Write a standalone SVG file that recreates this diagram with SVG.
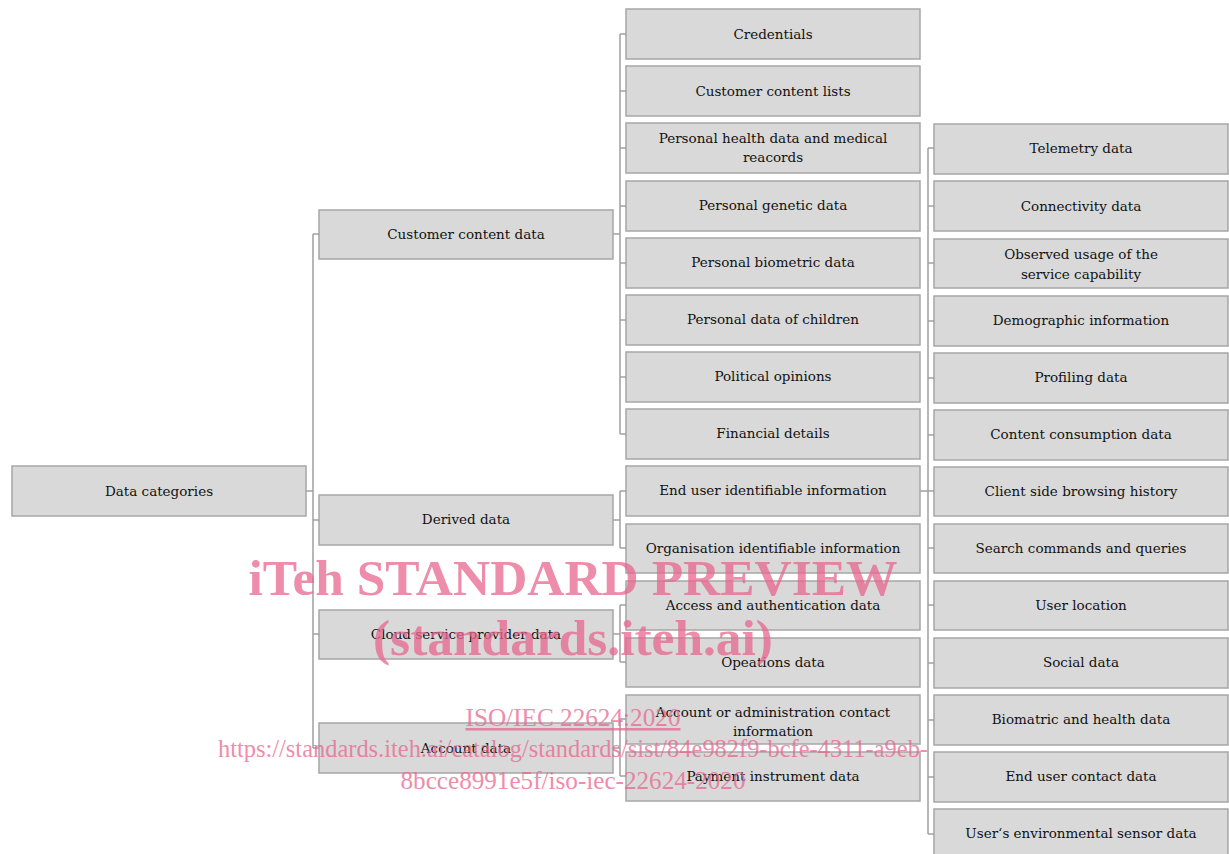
<svg xmlns="http://www.w3.org/2000/svg" width="1229" height="854" viewBox="0 0 1229 854">
<style>
.box{fill:#d9d9d9;stroke:#a6a6a6;stroke-width:1.5}
.t{font-family:"DejaVu Serif","Liberation Serif",serif;font-size:13.5px;fill:#111;text-anchor:middle}
.c{fill:none;stroke:#a0a0a0;stroke-width:1.5}
.wm{font-family:"Liberation Serif","Times New Roman",serif;fill:#e8678f;opacity:0.75;text-anchor:middle}
</style>
<defs>
<marker id="sq" viewBox="0 0 4 4" refX="2" refY="2" markerWidth="3" markerHeight="3" markerUnits="userSpaceOnUse"><rect width="4" height="4" fill="#a0a0a0"/></marker>
</defs>
<rect width="1229" height="854" fill="#fff"/>
<g id="connectors">
<path class="c" d="M306 491H313M313 234V748"/>
<path class="c" d="M313 234H319" marker-end="url(#sq)"/>
<path class="c" d="M313 520H319" marker-end="url(#sq)"/>
<path class="c" d="M313 634H319" marker-end="url(#sq)"/>
<path class="c" d="M313 748H319" marker-end="url(#sq)"/>
<path class="c" d="M613 234H620M620 34V434"/>
<path class="c" d="M620 34H626" marker-end="url(#sq)"/>
<path class="c" d="M620 91H626" marker-end="url(#sq)"/>
<path class="c" d="M620 148H626" marker-end="url(#sq)"/>
<path class="c" d="M620 206H626" marker-end="url(#sq)"/>
<path class="c" d="M620 263H626" marker-end="url(#sq)"/>
<path class="c" d="M620 320H626" marker-end="url(#sq)"/>
<path class="c" d="M620 377H626" marker-end="url(#sq)"/>
<path class="c" d="M620 434H626" marker-end="url(#sq)"/>
<path class="c" d="M613 520H620M620 491V548"/>
<path class="c" d="M620 491H626" marker-end="url(#sq)"/>
<path class="c" d="M620 548H626" marker-end="url(#sq)"/>
<path class="c" d="M613 634H620M620 605V662"/>
<path class="c" d="M620 605H626" marker-end="url(#sq)"/>
<path class="c" d="M620 662H626" marker-end="url(#sq)"/>
<path class="c" d="M613 748H620M620 719V776"/>
<path class="c" d="M620 719H626" marker-end="url(#sq)"/>
<path class="c" d="M620 776H626" marker-end="url(#sq)"/>
<path class="c" d="M920 491H928M928 148V834"/>
<path class="c" d="M928 148H934" marker-end="url(#sq)"/>
<path class="c" d="M928 206H934" marker-end="url(#sq)"/>
<path class="c" d="M928 263H934" marker-end="url(#sq)"/>
<path class="c" d="M928 321H934" marker-end="url(#sq)"/>
<path class="c" d="M928 378H934" marker-end="url(#sq)"/>
<path class="c" d="M928 435H934" marker-end="url(#sq)"/>
<path class="c" d="M928 491H934" marker-end="url(#sq)"/>
<path class="c" d="M928 548H934" marker-end="url(#sq)"/>
<path class="c" d="M928 605H934" marker-end="url(#sq)"/>
<path class="c" d="M928 663H934" marker-end="url(#sq)"/>
<path class="c" d="M928 720H934" marker-end="url(#sq)"/>
<path class="c" d="M928 777H934" marker-end="url(#sq)"/>
<path class="c" d="M928 834H934" marker-end="url(#sq)"/>
</g>
<g id="n-root"><rect class="box" x="12" y="466" width="294" height="50"/><text class="t" x="159" y="496">Data categories</text></g>
<g id="n-ccd"><rect class="box" x="319" y="210" width="294" height="49"/><text class="t" x="466" y="239">Customer content data</text></g>
<g id="n-derived"><rect class="box" x="319" y="495" width="294" height="50"/><text class="t" x="466" y="524">Derived data</text></g>
<g id="n-csp"><rect class="box" x="319" y="610" width="294" height="49"/><text class="t" x="466" y="639">Cloud service provider data</text></g>
<g id="n-account"><rect class="box" x="319" y="723" width="294" height="50"/><text class="t" x="466" y="753">Account data</text></g>
<g id="n-cred"><rect class="box" x="626" y="9" width="294" height="50"/><text class="t" x="773" y="39">Credentials</text></g>
<g id="n-ccl"><rect class="box" x="626" y="66" width="294" height="50"/><text class="t" x="773" y="96">Customer content lists</text></g>
<g id="n-health"><rect class="box" x="626" y="123" width="294" height="50"/><text class="t" x="773" y="143">Personal health data and medical</text><text class="t" x="773" y="162">reacords</text></g>
<g id="n-genetic"><rect class="box" x="626" y="181" width="294" height="50"/><text class="t" x="773" y="210">Personal genetic data</text></g>
<g id="n-biometric"><rect class="box" x="626" y="238" width="294" height="50"/><text class="t" x="773" y="267">Personal biometric data</text></g>
<g id="n-children"><rect class="box" x="626" y="295" width="294" height="50"/><text class="t" x="773" y="324">Personal data of children</text></g>
<g id="n-political"><rect class="box" x="626" y="352" width="294" height="50"/><text class="t" x="773" y="381">Political opinions</text></g>
<g id="n-financial"><rect class="box" x="626" y="409" width="294" height="50"/><text class="t" x="773" y="438">Financial details</text></g>
<g id="n-euii"><rect class="box" x="626" y="466" width="294" height="50"/><text class="t" x="773" y="495">End user identifiable information</text></g>
<g id="n-oii"><rect class="box" x="626" y="524" width="294" height="49"/><text class="t" x="773" y="553">Organisation identifiable information</text></g>
<g id="n-access"><rect class="box" x="626" y="581" width="294" height="49"/><text class="t" x="773" y="610">Access and authentication data</text></g>
<g id="n-ops"><rect class="box" x="626" y="638" width="294" height="49"/><text class="t" x="773" y="667">Opeations data</text></g>
<g id="n-admin"><rect class="box" x="626" y="695" width="294" height="49"/><text class="t" x="773" y="717">Account or administration contact</text><text class="t" x="773" y="736">information</text></g>
<g id="n-payment"><rect class="box" x="626" y="752" width="294" height="49"/><text class="t" x="773" y="781">Payment instrument data</text></g>
<g id="n-telemetry"><rect class="box" x="934" y="124" width="294" height="50"/><text class="t" x="1081" y="153">Telemetry data</text></g>
<g id="n-connect"><rect class="box" x="934" y="181" width="294" height="50"/><text class="t" x="1081" y="211">Connectivity data</text></g>
<g id="n-usage"><rect class="box" x="934" y="239" width="294" height="49"/><text class="t" x="1081" y="259">Observed usage of the</text><text class="t" x="1081" y="279">service capability</text></g>
<g id="n-demo"><rect class="box" x="934" y="296" width="294" height="50"/><text class="t" x="1081" y="325">Demographic information</text></g>
<g id="n-profiling"><rect class="box" x="934" y="353" width="294" height="50"/><text class="t" x="1081" y="382">Profiling data</text></g>
<g id="n-content"><rect class="box" x="934" y="410" width="294" height="50"/><text class="t" x="1081" y="439">Content consumption data</text></g>
<g id="n-browsing"><rect class="box" x="934" y="467" width="294" height="49"/><text class="t" x="1081" y="496">Client side browsing history</text></g>
<g id="n-search"><rect class="box" x="934" y="524" width="294" height="49"/><text class="t" x="1081" y="553">Search commands and queries</text></g>
<g id="n-location"><rect class="box" x="934" y="581" width="294" height="49"/><text class="t" x="1081" y="610">User location</text></g>
<g id="n-social"><rect class="box" x="934" y="638" width="294" height="50"/><text class="t" x="1081" y="667">Social data</text></g>
<g id="n-biomatric"><rect class="box" x="934" y="695" width="294" height="50"/><text class="t" x="1081" y="724">Biomatric and health data</text></g>
<g id="n-eucontact"><rect class="box" x="934" y="752" width="294" height="50"/><text class="t" x="1081" y="781">End user contact data</text></g>
<g id="n-sensor"><rect class="box" x="934" y="809" width="294" height="50"/><text class="t" x="1081" y="838">User‘s environmental sensor data</text></g>
<g id="watermark">
<text class="wm" x="573" y="595" font-size="51" font-weight="bold" textLength="649" lengthAdjust="spacingAndGlyphs">iTeh STANDARD PREVIEW</text>
<text class="wm" x="573" y="655" font-size="51" font-weight="bold" textLength="400" lengthAdjust="spacingAndGlyphs">(standards.iteh.ai)</text>
<text class="wm" x="573" y="726" font-size="25" text-decoration="underline" textLength="215" lengthAdjust="spacingAndGlyphs">ISO/IEC 22624:2020</text>
<text class="wm" x="573" y="757" font-size="25" textLength="710" lengthAdjust="spacingAndGlyphs">https://standards.iteh.ai/catalog/standards/sist/84e982f9-bcfe-4311-a9eb-</text>
<text class="wm" x="573" y="789" font-size="25" textLength="345" lengthAdjust="spacingAndGlyphs">8bcce8991e5f/iso-iec-22624-2020</text>
</g>
</svg>
